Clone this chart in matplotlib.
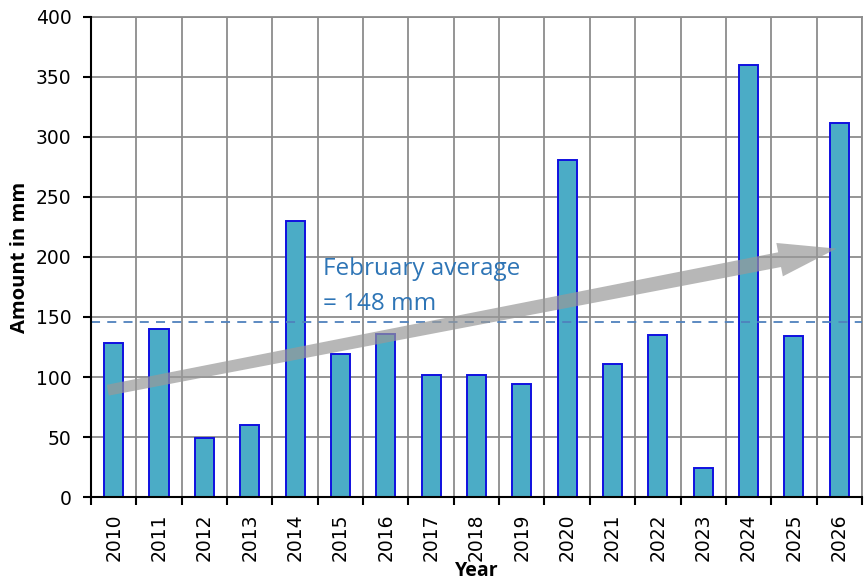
from matplotlib import pyplot as plt
from matplotlib.patches import Polygon
from matplotlib.transforms import IdentityTransform
import numpy as np

# February rainfall per year
years = ['2010', '2011', '2012', '2013', '2014', '2015', '2016', '2017', '2018',
         '2019', '2020', '2021', '2022', '2023', '2024', '2025', '2026']
amounts = [128, 140, 49, 60, 230, 119, 136, 102, 102, 94, 281, 111, 135, 24, 360, 134, 312]
average_line = 146
average_lines = ['February average', '= 148 mm']
trend_start = (-0.13, 89)
trend_end = (15.94, 207)

plt.rcParams['font.family'] = ['DejaVu Sans']

fig = plt.figure(figsize=(8.68, 5.85), dpi=100)
ax = fig.add_axes([0.1048, 0.1504, 0.8882, 0.8206])

x = np.arange(len(years))
ax.bar(x, amounts, width=0.42, color='#4bacc6', edgecolor='#1010e0',
       linewidth=1.4, zorder=3)

ax.set_xlim(-0.5, len(years) - 0.5)
ax.set_ylim(0, 400)

# grid: horizontal at every 50, vertical between categories
ax.set_yticks(np.arange(0, 401, 50))
ax.set_xticks(x)
ax.set_xticklabels(years, rotation=90)
ax.set_xticks(np.arange(-0.5, len(years), 1), minor=True)
ax.grid(axis='y', which='major', color='#8c8c8c', linewidth=1.3, zorder=0)
ax.grid(axis='x', which='minor', color='#8c8c8c', linewidth=1.3, zorder=0)
ax.tick_params(axis='x', which='major', length=0, labelsize=13.5, pad=12)
ax.tick_params(axis='x', which='minor', length=6, width=1.5, color='black')
ax.tick_params(axis='y', length=6, width=1.5, labelsize=13.5, pad=8)

for side in ['top', 'right']:
    ax.spines[side].set_color('#8c8c8c')
    ax.spines[side].set_linewidth(1.3)
for side in ['left', 'bottom']:
    ax.spines[side].set_linewidth(1.5)
    ax.spines[side].set_zorder(4)

# average line
ax.axhline(average_line, color='#4f81bd', linewidth=1.3, linestyle=(0, (5, 4)), zorder=4)
for line, yv in zip(average_lines, [185, 156]):
    ax.text(4.62, yv, line, color='#2e75b6', fontsize=17.5, family='Open Sans',
            va='baseline', ha='left', zorder=5)

# trend arrow, tapered shaft, built in pixel space
p0 = ax.transData.transform(trend_start)
p1 = ax.transData.transform(trend_end)
u = (p1 - p0) / np.hypot(*(p1 - p0))
n = np.array([-u[1], u[0]])
head_len, head_half, w0, w1 = 58, 17, 5.5, 7.5
hb = p1 - u * head_len
pts = [p0 + n * w0, hb + n * w1, hb + n * head_half, p1,
       hb - n * head_half, hb - n * w1, p0 - n * w0]
ax.add_patch(Polygon(pts, closed=True, transform=IdentityTransform(),
                     facecolor='#999999', edgecolor='none', alpha=0.7,
                     zorder=6, clip_on=False))

ax.set_ylabel('Amount in mm', fontsize=14.5, fontweight='bold', family='Open Sans', labelpad=4)
ax.set_xlabel('Year', fontsize=14, fontweight='bold', family='Open Sans', labelpad=0)

fig.savefig('out.png', dpi=100)
